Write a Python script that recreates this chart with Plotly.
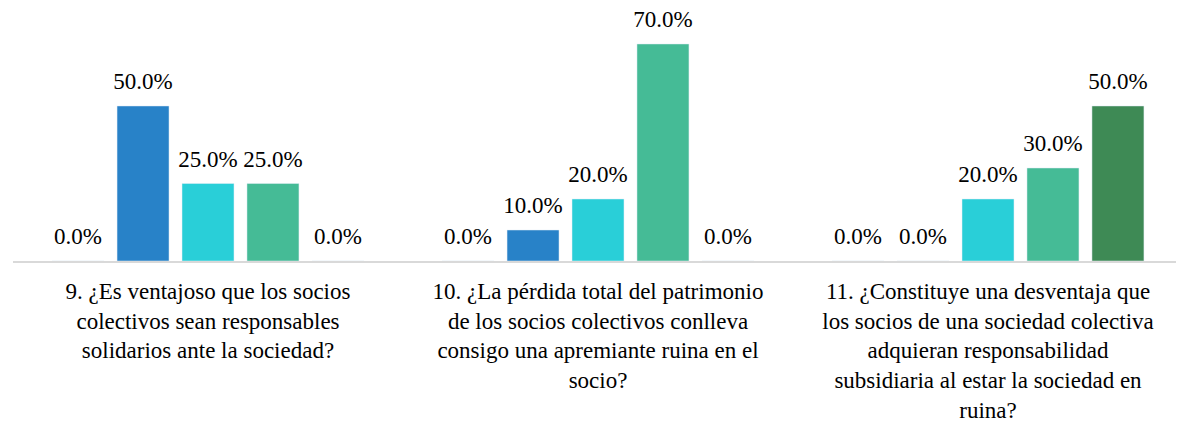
import plotly.graph_objs as go

"""
GROUPED BAR CHART OF SURVEY ANSWERS (QUESTIONS 9-11)
"""

preguntas = [
    "9. ¿Es ventajoso que los socios<br>colectivos sean responsables<br>solidarios ante la sociedad?",
    "10. ¿La pérdida total del patrimonio<br>de los socios colectivos conlleva<br>consigo una apremiante ruina en el<br>socio?",
    "11. ¿Constituye una desventaja que<br>los socios de una sociedad colectiva<br>adquieran responsabilidad<br>subsidiaria al estar la sociedad en<br>ruina?",
]

opciones = ["Totalmente en desacuerdo", "En desacuerdo", "Indiferente", "De acuerdo", "Totalmente de acuerdo"]

valores = [
    [0.0, 0.0, 0.0],
    [50.0, 10.0, 0.0],
    [25.0, 20.0, 20.0],
    [25.0, 70.0, 30.0],
    [0.0, 0.0, 50.0],
]

colores = ["#1F5F99", "#2882C8", "#29CFD8", "#45BB96", "#3E8A55"]

FONT = "Liberation Serif"
GAP = 0.167


def bar_traces():
    data = []
    for nombre, ys, color in zip(opciones, valores, colores):
        data.append(go.Bar(
            x=preguntas, y=ys, name=nombre,
            marker=dict(color=color),
            showlegend=False, hoverinfo="skip",
        ))
    return data


def label_traces():
    """
    value labels drawn by invisible grouped markers, so they sit a bit higher above the bars
    """
    data = []
    for nombre, ys in zip(opciones, valores):
        data.append(go.Scatter(
            x=preguntas, y=ys, name=nombre,
            mode="markers+text",
            marker=dict(size=16, color="rgba(0,0,0,0)"),
            text=["%.1f%%" % v for v in ys],
            textposition="top center",
            textfont=dict(family=FONT, size=23, color="#000000"),
            cliponaxis=False,
            showlegend=False,
        ))
    return data


# page body has an 8px margin, so the figure is a bit smaller than the window
layout = go.Layout(
    barmode="group",
    bargap=GAP,
    bargroupgap=0.2,
    scattermode="group",
    scattergap=GAP,
    width=1176, height=418,
    margin=dict(l=5, r=1, t=0, b=165, autoexpand=False),
    paper_bgcolor="white",
    plot_bgcolor="white",
    font=dict(family=FONT, size=23, color="#000000"),
    xaxis=dict(
        showline=True, linecolor="#D9D9D9", linewidth=2,
        ticks="", tickfont=dict(family=FONT, size=23, color="#000000"),
        tickangle=0, automargin=False, ticklabelstandoff=8,
    ),
    yaxis=dict(range=[0, 81.6], visible=False, showgrid=False, zeroline=False),
)

fig = go.Figure(data=bar_traces() + label_traces(), layout=layout)
fig.write_html("out.html")
